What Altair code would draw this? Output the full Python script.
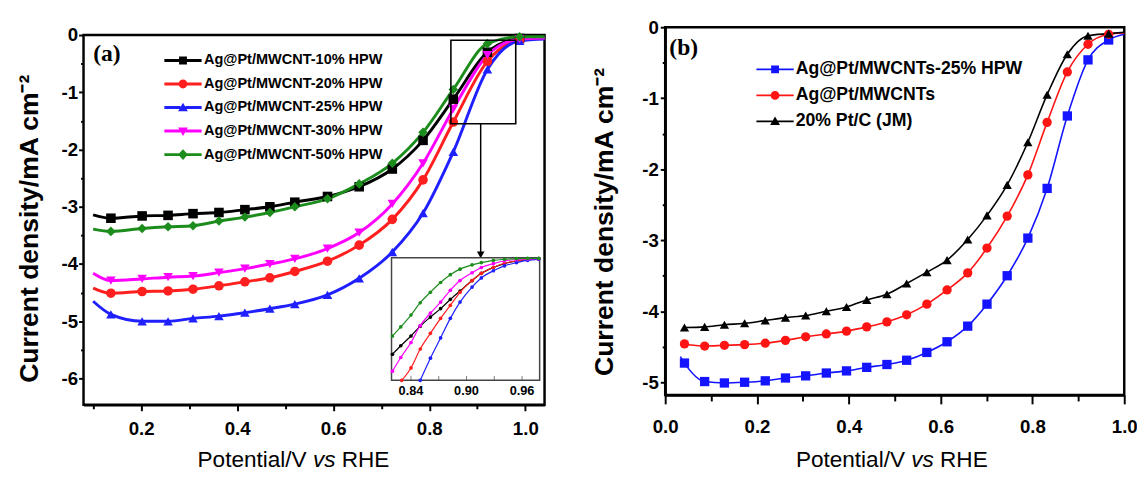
import altair as alt
import pandas as pd

SANS = "Liberation Sans"
SERIF = "Liberation Serif"

# ---------------- panel (a) data ----------------
A_NAMES = ["Ag@Pt/MWCNT-10% HPW", "Ag@Pt/MWCNT-20% HPW", "Ag@Pt/MWCNT-25% HPW",
           "Ag@Pt/MWCNT-30% HPW", "Ag@Pt/MWCNT-50% HPW"]
A_COLORS = ["#000000", "#ff1f1f", "#1f1fff", "#ff00ff", "#1c8c1c"]
A_SHAPES = ["square", "circle", "triangle-up", "triangle-down", "diamond"]

A_X = [0.100, 0.137, 0.202, 0.256, 0.308, 0.362, 0.416, 0.468, 0.520,
       0.588, 0.654, 0.723, 0.787, 0.850, 0.921, 0.988, 1.040]
A_MARKED = [False] + [True] * 15 + [False]
A_Y_10 = [-3.14, -3.20, -3.16, -3.15, -3.12, -3.10, -3.05, -3.00, -2.92,
          -2.82, -2.65, -2.34, -1.84, -1.12, -0.30, -0.06, -0.04]
A_Y_20 = [-4.42, -4.51, -4.48, -4.47, -4.44, -4.38, -4.31, -4.24, -4.13,
          -3.95, -3.67, -3.22, -2.53, -1.52, -0.46, -0.09, -0.06]
A_Y_25 = [-4.65, -4.88, -5.00, -5.00, -4.95, -4.91, -4.85, -4.78, -4.70,
          -4.54, -4.25, -3.79, -3.11, -2.04, -0.60, -0.10, -0.07]
A_Y_30 = [-4.16, -4.29, -4.26, -4.23, -4.21, -4.15, -4.08, -4.00, -3.91,
          -3.73, -3.45, -2.95, -2.24, -1.29, -0.35, -0.07, -0.05]
A_Y_50 = [-3.39, -3.43, -3.38, -3.35, -3.33, -3.25, -3.18, -3.10, -3.00,
          -2.86, -2.60, -2.24, -1.70, -0.95, -0.15, -0.03, -0.03]

# inset of panel (a)
A_IN_X_10 = [0.820, 0.829, 0.840, 0.850, 0.861, 0.872, 0.8825, 0.893, 0.906,
             0.916, 0.929, 0.941, 0.954, 0.966, 0.978]
A_IN_Y_10 = [-1.50, -1.37, -1.22, -1.07, -0.93, -0.80, -0.66, -0.53, -0.37,
             -0.26, -0.17, -0.11, -0.07, -0.045, -0.035]
A_IN_X_20 = [0.830, 0.840, 0.850, 0.861, 0.872, 0.8825, 0.893, 0.906,
             0.916, 0.929, 0.941, 0.954, 0.966, 0.978]
A_IN_Y_20 = [-1.90, -1.71, -1.42, -1.18, -0.95, -0.75, -0.55, -0.37,
             -0.26, -0.17, -0.105, -0.07, -0.05, -0.04]
A_IN_X_25 = [0.850, 0.861, 0.872, 0.8825, 0.893, 0.906, 0.916, 0.929,
             0.941, 0.954, 0.966, 0.978]
A_IN_Y_25 = [-1.90, -1.56, -1.25, -0.95, -0.70, -0.47, -0.33, -0.22,
             -0.145, -0.095, -0.06, -0.045]
A_IN_X_30 = [0.820, 0.829, 0.840, 0.850, 0.861, 0.872, 0.8825, 0.893, 0.906,
             0.916, 0.929, 0.941, 0.954, 0.966, 0.978]
A_IN_Y_30 = [-1.76, -1.55, -1.32, -1.06, -0.87, -0.70, -0.52, -0.37, -0.25,
             -0.17, -0.11, -0.07, -0.05, -0.04, -0.035]
A_IN_X_50 = [0.820, 0.829, 0.840, 0.850, 0.861, 0.872, 0.8825, 0.893, 0.906,
             0.916, 0.929, 0.941, 0.954, 0.966, 0.978]
A_IN_Y_50 = [-1.22, -1.08, -0.90, -0.71, -0.55, -0.40, -0.28, -0.195, -0.13,
             -0.095, -0.06, -0.045, -0.035, -0.03, -0.03]

A_XDOM = [0.08, 1.04]
A_YDOM = [-6.46, 0.137]      # frame top is at 0; the extra strip keeps panel (a) 8px lower than (b)
A_FRAME = {"x": [0.08], "x2": [1.04], "y": [-6.46], "y2": [0.0]}
A_X_TICKS = [round(0.1 * i, 1) for i in range(1, 11)]
A_Y_TICKS = [round(-0.5 * i, 1) for i in range(0, 13)]
A_IN_XDOM = [0.819, 0.979]
A_IN_YDOM = [-1.9, -0.02]
A_IN_TICKS = [0.84, 0.87, 0.90, 0.93, 0.96]
A_IN_LABELS = ["0.84", "0.90", "0.96"]
A_BOX = {"x": [0.845], "x2": [0.980], "y": [-1.55], "y2": [-0.09]}
A_ARROW = {"x": [0.907], "y": [-1.55], "y2": [-3.80], "yh": [-3.84]}

# ---------------- panel (b) data ----------------
B_NAMES = ["Ag@Pt/MWCNTs-25% HPW", "Ag@Pt/MWCNTs", "20% Pt/C (JM)"]
B_COLORS = ["#1414ff", "#ff1414", "#000000"]
B_SHAPES = ["square", "circle", "triangle-up"]
B_X = [0.033, 0.042, 0.086, 0.129, 0.173, 0.218, 0.262, 0.306, 0.351, 0.395,
       0.439, 0.483, 0.526, 0.570, 0.614, 0.659, 0.701, 0.745, 0.790, 0.832,
       0.876, 0.921, 0.966, 1.000]
B_MARKED = [False] + [True] * 22 + [False]
B_Y_HPW = [-4.64, -4.73, -4.99, -5.01, -5.00, -4.98, -4.94, -4.91, -4.87, -4.84,
           -4.79, -4.75, -4.69, -4.58, -4.43, -4.21, -3.90, -3.50, -2.97, -2.27,
           -1.25, -0.46, -0.18, -0.10]
B_Y_CNT = [None, -4.46, -4.49, -4.48, -4.47, -4.45, -4.41, -4.36, -4.32, -4.28,
           -4.22, -4.15, -4.05, -3.90, -3.70, -3.46, -3.11, -2.66, -2.08, -1.34,
           -0.63, -0.24, -0.10, -0.08]
B_Y_PTC = [None, -4.23, -4.22, -4.19, -4.17, -4.13, -4.09, -4.06, -4.00, -3.94,
           -3.84, -3.76, -3.61, -3.45, -3.28, -2.99, -2.65, -2.22, -1.62, -0.95,
           -0.38, -0.12, -0.09, -0.07]
B_XDOM = [0.0, 1.0]
B_YDOM = [-5.18, 0.0]
B_X_TICKS = [round(0.1 * i, 1) for i in range(0, 11)]
B_Y_TICKS = [round(-0.5 * i, 1) for i in range(0, 11)]

Y_TITLE = "Current density/mA cm\u207b\u00b2"
X_TITLE_PARTS = ["Potential/V", "vs", "RHE"]   # "vs" is set in italics
X_TITLE_SIZE = 23


def long_rows(names, xs_list, ys_list, marks_list):
    out = []
    for n, xs, ys, ms in zip(names, xs_list, ys_list, marks_list):
        for x, y, m in zip(xs, ys, ms):
            if y is not None:
                out.append({"series": n, "x": x, "y": y, "marked": m})
    return pd.DataFrame(out)


def legend_path(marker, half_len, thick):
    g = 0.5
    line = (f"M{-half_len},{-thick}H{-g}V{thick}H{-half_len}Z"
            f"M{g},{-thick}H{half_len}V{thick}H{g}Z")
    shapes = {
        "square": "M-0.8,-0.8H0.8V0.8H-0.8Z",
        "circle": "M0.9,0A0.9,0.9 0 1,1 -0.9,0A0.9,0.9 0 1,1 0.9,0Z",
        "triangle-up": "M0,-1L1,0.75H-1Z",
        "triangle-down": "M0,1L-1,-0.75H1Z",
        "diamond": "M0,-1.1L1,0L0,1.1L-1,0Z",
    }
    return line + shapes[marker]


def x_axis(values, tick_major=6, tick_minor=4, label_pad=9):
    return alt.Axis(
        values=values, title=None,
        labelExpr="round(datum.value*10) % 2 == 0 ? format(datum.value, '.1f') : ''",
        tickSize={"condition": {"test": "round(datum.value*10) % 2 == 0", "value": tick_major},
                  "value": tick_minor},
        labelFlush=False, labelOverlap=False, labelPadding=label_pad,
    )


def y_axis(values, label_pad=1, title_pad=14, title_y=200, domain=True):
    return alt.Axis(
        values=values, title=Y_TITLE, domain=domain, titleY=title_y,
        labelExpr="round(datum.value*2) % 2 == 0 ? '' + datum.value : ''",
        tickSize={"condition": {"test": "round(datum.value*2) % 2 == 0", "value": 5},
                  "value": 3},
        labelFlush=False, labelOverlap=False, labelPadding=label_pad, titlePadding=title_pad,
    )


def make_legend(x, y, size, row_pad, label_offset):
    return alt.Legend(
        title=None, orient="none", legendX=x, legendY=y, padding=0,
        labelFont=SANS, labelFontSize=size, labelFontWeight="bold", labelColor="black",
        labelLimit=0, symbolSize=100, symbolOpacity=1, symbolStrokeWidth=0,
        labelOffset=label_offset, rowPadding=row_pad,
    )


def x_title_layers(center, baseline):
    """Axis title 'Potential/V vs RHE' with an italic 'vs' (Liberation Sans = Arial metrics)."""
    em = X_TITLE_SIZE
    w_left, w_space, w_vs, w_right = 4.836 * em, 0.278 * em, 1.0 * em, 2.111 * em
    start = center - (w_left + 2 * w_space + w_vs + w_right) / 2
    one = pd.DataFrame({"k": [0]})
    specs = [
        (X_TITLE_PARTS[0], start + w_left, "right", "normal"),
        (X_TITLE_PARTS[1], start + w_left + w_space, "left", "italic"),
        (X_TITLE_PARTS[2], start + w_left + 2 * w_space + w_vs, "left", "normal"),
    ]
    return [
        alt.Chart(one).mark_text(font=SANS, fontSize=em, fontStyle=st, align=al,
                                 baseline="alphabetic", color="black", text=t)
        .encode(x=alt.value(px), y=alt.value(baseline))
        for t, px, al, st in specs
    ]


# ================= panel (a) =================
A_W, A_H = 470, 385
a_df = long_rows(A_NAMES, [A_X] * 5, [A_Y_10, A_Y_20, A_Y_25, A_Y_30, A_Y_50], [A_MARKED] * 5)
a_in_df = long_rows(A_NAMES, [A_IN_X_10, A_IN_X_20, A_IN_X_25, A_IN_X_30, A_IN_X_50],
                    [A_IN_Y_10, A_IN_Y_20, A_IN_Y_25, A_IN_Y_30, A_IN_Y_50],
                    [[True] * 15] * 5)

ax_a = x_axis(A_X_TICKS)
ay_a = y_axis(A_Y_TICKS, label_pad=1, title_pad=18, title_y=205, domain=False)
xa_s = alt.Scale(domain=A_XDOM, nice=False, zero=False)
ya_s = alt.Scale(domain=A_YDOM, nice=False, zero=False)
XA = alt.X("x:Q", scale=xa_s, axis=ax_a)
YA = alt.Y("y:Q", scale=ya_s, axis=ay_a)

a_layers = [alt.Chart(pd.DataFrame(A_FRAME)).mark_rect(
    fill="transparent", stroke="black", strokeWidth=2.5).encode(x=XA, x2="x2:Q", y=YA, y2="y2:Q")]
for n, c in zip(A_NAMES, A_COLORS):
    a_layers.append(alt.Chart(a_df).transform_filter(alt.datum.series == n)
                    .mark_line(strokeWidth=3, interpolate="monotone", color=c).encode(x=XA, y=YA))
for n, c, s in zip(A_NAMES, A_COLORS, A_SHAPES):
    a_layers.append(alt.Chart(a_df).transform_filter((alt.datum.series == n) & alt.datum.marked)
                    .mark_point(shape=s, filled=True, size=95, opacity=1, color=c).encode(x=XA, y=YA))

a_leg_def = make_legend(94, 26.5, 14.8, 8, 14)
a_legend = alt.Chart(a_df).transform_filter(alt.datum.marked).mark_point(
    filled=True, opacity=0, size=100).encode(
    x=XA, y=YA,
    color=alt.Color("series:N", scale=alt.Scale(domain=A_NAMES, range=A_COLORS), legend=a_leg_def),
    shape=alt.Shape("series:N", scale=alt.Scale(domain=A_NAMES,
                    range=[legend_path(s, 3.8, 0.3) for s in A_SHAPES]), legend=a_leg_def),
)
a_box = alt.Chart(pd.DataFrame(A_BOX)).mark_rect(
    fill="transparent", stroke="black", strokeWidth=1.6).encode(
    x=XA, x2="x2:Q", y=YA, y2="y2:Q")
arrow_df = pd.DataFrame(A_ARROW)
a_arrow = alt.Chart(arrow_df).mark_rule(color="black", strokeWidth=1.5).encode(x=XA, y=YA, y2="y2:Q")
a_head = alt.Chart(arrow_df).mark_point(shape="triangle-down", filled=True, color="black",
                                         size=60, opacity=1).encode(x=XA, y=alt.Y("yh:Q", scale=ya_s, axis=ay_a))
a_tag = alt.Chart(pd.DataFrame({"x": [0.10], "y": [-0.33], "t": ["(a)"]})).mark_text(
    font=SERIF, fontWeight="bold", fontSize=24, align="left", baseline="middle", color="black"
).encode(x=XA, y=YA, text="t:N")

main_a = alt.layer(*a_layers, a_box, a_arrow, a_head, a_tag, a_legend, *x_title_layers(214, 448))

# inset (own scales placed inside the panel)
XI = alt.X("x:Q", scale=alt.Scale(domain=A_IN_XDOM, range=[314, 465], nice=False, zero=False), axis=None)
YI = alt.Y("y:Q", scale=alt.Scale(domain=A_IN_YDOM, range=[360, 235], nice=False, zero=False), axis=None)
in_layers = [alt.Chart(pd.DataFrame({"x": [A_IN_XDOM[0]], "x2": [A_IN_XDOM[1]],
                                     "y": [A_IN_YDOM[0]], "y2": [A_IN_YDOM[1]]})).mark_rect(
    fill="white", stroke="#444444", strokeWidth=1.5).encode(x=XI, x2="x2:Q", y=YI, y2="y2:Q")]
for n, c in zip(A_NAMES, A_COLORS):
    sub = alt.Chart(a_in_df).transform_filter(alt.datum.series == n)
    in_layers.append(sub.mark_line(strokeWidth=1.2, interpolate="monotone", color=c).encode(x=XI, y=YI))
    in_layers.append(sub.mark_circle(size=14, opacity=1, color=c).encode(x=XI, y=YI))
in_layers.append(alt.Chart(pd.DataFrame({"x": A_IN_TICKS, "y": [A_IN_YDOM[0]] * len(A_IN_TICKS)})).mark_tick(
    orient="vertical", size=5, thickness=1, color="#444444", yOffset=-2).encode(x=XI, y=YI))
in_layers.append(alt.Chart(pd.DataFrame({"x": [float(v) for v in A_IN_LABELS],
                                         "y": [A_IN_YDOM[0]] * 3, "t": A_IN_LABELS})).mark_text(
    font=SANS, fontWeight="bold", fontSize=13, baseline="top", dy=5, color="black"
).encode(x=XI, y=YI, text="t:N"))
inset_a = alt.layer(*in_layers)

panel_a = alt.layer(main_a, inset_a).resolve_scale(x="independent", y="independent").properties(
    width=A_W, height=A_H, view=alt.ViewBackground(stroke="transparent"))

# ================= panel (b) =================
b_df = long_rows(B_NAMES, [B_X] * 3, [B_Y_HPW, B_Y_CNT, B_Y_PTC], [B_MARKED] * 3)
ax_b = x_axis(B_X_TICKS, tick_major=9, tick_minor=6, label_pad=14)
ay_b = y_axis(B_Y_TICKS, label_pad=2, title_pad=24, title_y=198)
xb_s = alt.Scale(domain=B_XDOM, nice=False, zero=False)
yb_s = alt.Scale(domain=B_YDOM, nice=False, zero=False)
XB = alt.X("x:Q", scale=xb_s, axis=ax_b)
YB = alt.Y("y:Q", scale=yb_s, axis=ay_b)

b_layers = []
for n, c in zip(B_NAMES, B_COLORS):
    b_layers.append(alt.Chart(b_df).transform_filter(alt.datum.series == n)
                    .mark_line(strokeWidth=1.6, interpolate="monotone", color=c).encode(x=XB, y=YB))
for n, c, s in zip(B_NAMES, B_COLORS, B_SHAPES):
    b_layers.append(alt.Chart(b_df).transform_filter((alt.datum.series == n) & alt.datum.marked)
                    .mark_point(shape=s, filled=True, size=90, opacity=1, color=c).encode(x=XB, y=YB))

b_leg_def = make_legend(103, 34, 18, 8.5, 12)
b_legend = alt.Chart(b_df).transform_filter(alt.datum.marked).mark_point(
    filled=True, opacity=0, size=100).encode(
    x=XB, y=YB,
    color=alt.Color("series:N", scale=alt.Scale(domain=B_NAMES, range=B_COLORS), legend=b_leg_def),
    shape=alt.Shape("series:N", scale=alt.Scale(domain=B_NAMES,
                    range=[legend_path(s, 3.8, 0.16) for s in B_SHAPES]), legend=b_leg_def),
)
b_tag = alt.Chart(pd.DataFrame({"x": [0.009], "y": [-0.30], "t": ["(b)"]})).mark_text(
    font=SERIF, fontWeight="bold", fontSize=24, align="left", baseline="middle", color="black"
).encode(x=XB, y=YB, text="t:N")

panel_b = alt.layer(*b_layers, b_tag, b_legend, *x_title_layers(231, 448)).properties(
    width=468, height=375)

chart = alt.hconcat(panel_a, panel_b, spacing=37,
                    padding={"left": 6, "top": 4, "right": -2, "bottom": 0}).resolve_scale(
    color="independent", shape="independent"
).resolve_legend(
    color="independent", shape="independent"
).configure_view(
    stroke="black", strokeWidth=2.5
).configure_axis(
    domainColor="black", domainWidth=2.5, tickColor="black", tickWidth=2,
    labelColor="black", labelFont=SANS, labelFontSize=19, labelFontWeight="bold",
    titleColor="black", titleFont=SANS, grid=False,
).configure_axisY(
    titleFontSize=27, titleFontWeight="bold",
)

chart.save("out.html", embed_options={"renderer": "svg", "actions": False})
